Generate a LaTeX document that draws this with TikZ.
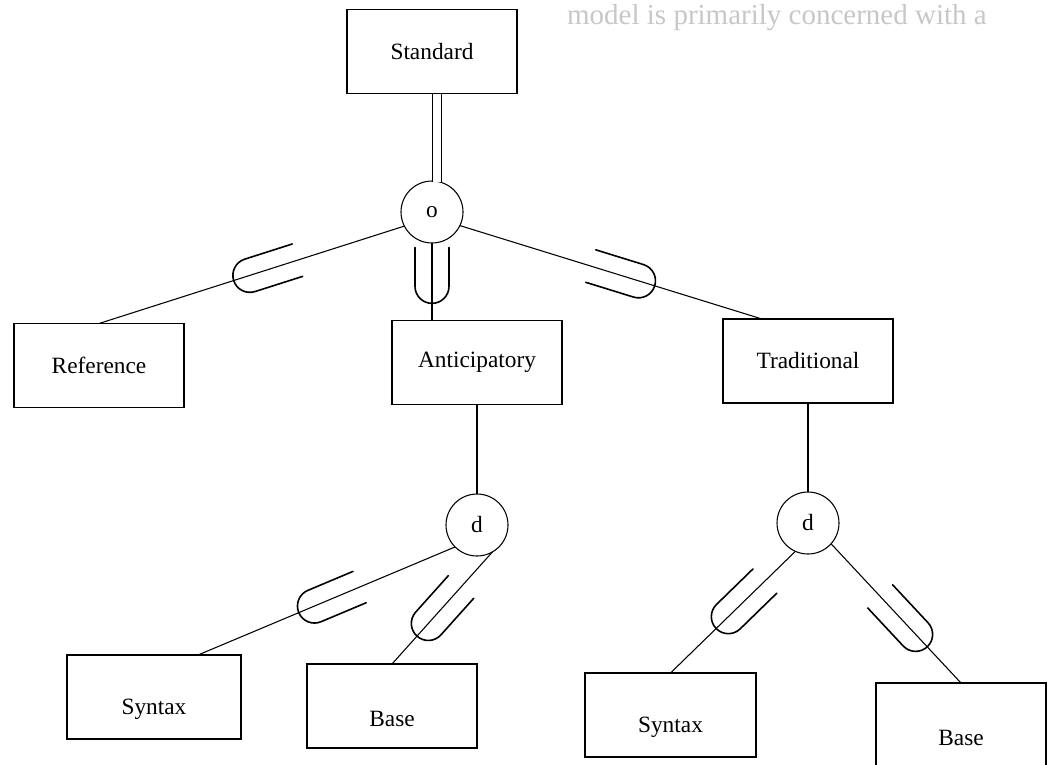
\documentclass[tikz,border=0pt]{standalone}
\usepackage{fontspec}
\setmainfont{Liberation Serif}
\usetikzlibrary{calc,decorations.markings}
\tikzset{
  lbl/.style={font=\fontsize{17.5}{20}\selectfont},
  ent/.style={draw, lbl, line width=0.8pt, minimum width=127.5pt, minimum height=63pt,
    inner sep=0pt, outer sep=0pt},
  lowtext/.style={label={[lbl, inner sep=0pt, yshift=-9.5pt]center:#1}},
  spec/.style={draw, circle, lbl, line width=0.8pt, minimum size=46.5pt, inner sep=0pt, outer sep=0pt},
  link/.style={line width=0.8pt},
  total/.style={line width=0.8pt, double, double distance=5.8pt},
  subsetline/.style={line width=1.2pt, line cap=round},
  % subset symbol: #1 = position of the curved end along the connector, #2 = overall length
  subset/.style 2 args={postaction={decorate},
    decoration={markings, mark=at position #1 with {
      \draw[subsetline] (-#2,17) -- (-17,17) arc[start angle=90, end angle=-90, radius=17] -- (-#2,-17);}}},
}
\begin{document}
\begin{tikzpicture}[x=0.75pt, y=-0.75pt]
\useasboundingbox (0,0) rectangle (1048,764);

% faint line of text at the top
\node[anchor=base east, text=black!22, font=\fontsize{21.75}{24}\selectfont, inner sep=0pt]
  (note) at (987,24) {model is primarily concerned with a};

% entities
\node[ent] (std) at (432,51.5) {Standard};
\node[ent] (ref) at (99,365.5) {Reference};
\node[ent] (ant) at (477,362.5) {Anticipatory};
\node[ent] (trad) at (808,361) {Traditional};
\node[ent, minimum width=130.5pt, lowtext=Syntax] (syn1) at (154,697) {};
\node[ent, lowtext=Base] (base1) at (392,706) {};
\node[ent, minimum width=128.25pt, lowtext=Syntax] (syn2) at (670.5,715) {};
\node[ent, lowtext=Base] (base2) at (961,725) {};

% specialization circles
\node[spec] (o) at (432,212) {o};
\node[spec] (d1) at (477,525) {d};
\node[spec] (d2) at (808,523) {d};

% connectors
\draw[total] ($(std.south)+(5,0)$) -- ($(o.north)+(5,1)$);
\draw[link, subset={0.559}{67}] (o.207) -- (ref.north);
\draw[link, subset={0.779}{56}] (o.south) -- (o.south |- ant.north);
\draw[link, subset={0.645}{67}] (o.334) -- ($(trad.north)+(-46,0)$);
\draw[link] (ant.south) -- (d1.north);
\draw[link] (trad.south) -- (d2.north);
\draw[link, subset={0.608}{66}] (d1.225) -- ($(syn1.north)+(44,0)$);
\draw[link, subset={0.754}{66}] (d1.300) -- (base1.north);
\draw[link, subset={0.637}{68}] (d2.246) -- (syn2.north);
\draw[link, subset={0.740}{69}] (d2.318) -- (base2.north);
\end{tikzpicture}
\end{document}
